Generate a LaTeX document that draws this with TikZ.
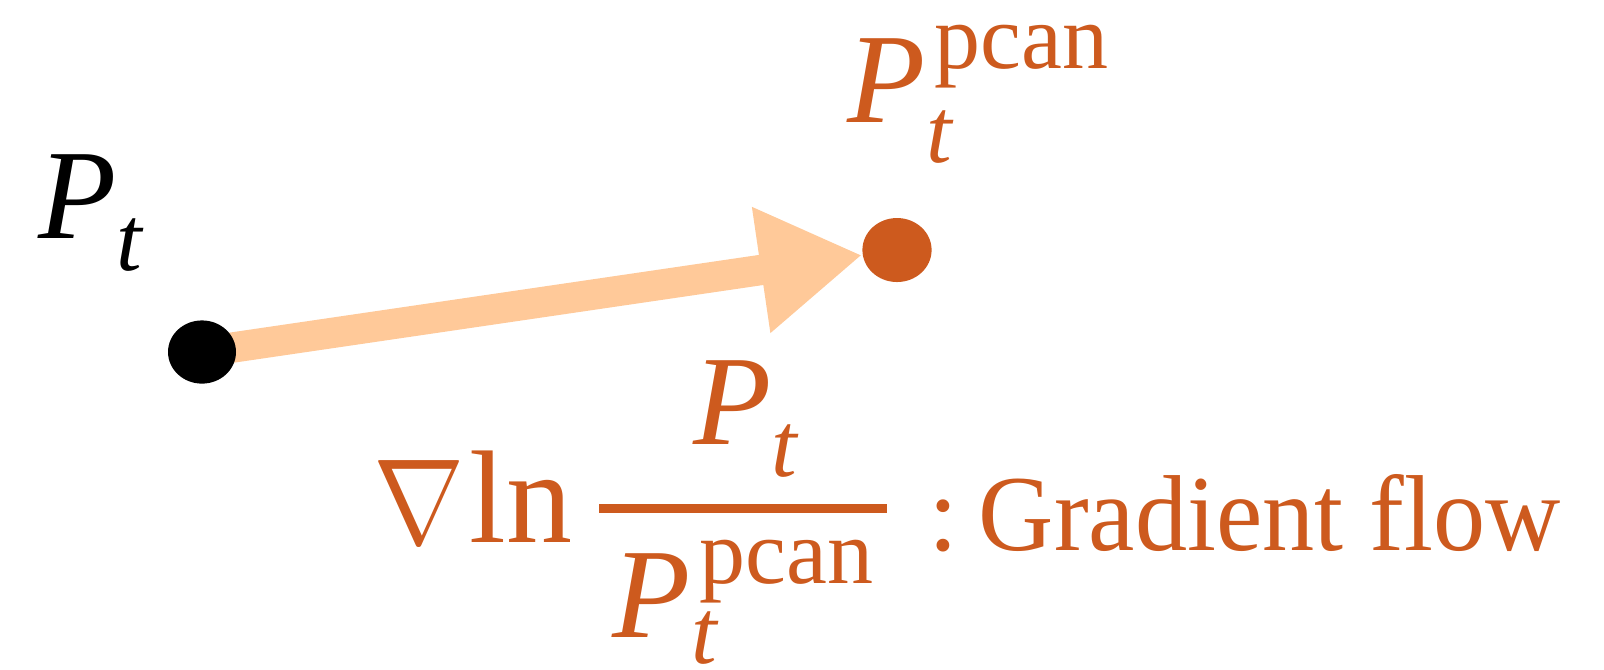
\documentclass[tikz,border=0pt]{standalone}
\usepackage{fontspec}
\setmainfont{Liberation Serif}
\usepackage{graphicx}
\usetikzlibrary{arrows.meta, shapes.geometric, backgrounds}
\definecolor{pcanorange}{RGB}{205,90,30}
\definecolor{flowpeach}{RGB}{255,201,153}

\newcommand{\bigP}{\fontsize{32}{32}\selectfont\itshape P}
\newcommand{\smallfnt}{\fontsize{23}{23}\selectfont}
% P_t and P_t^pcan, drop of t and rise of pcan as arguments
\newcommand{\symPt}[1]{{\bigP}\rlap{\raisebox{-#1}{\smallfnt\itshape t}}}
\newcommand{\symPcan}[2]{{\bigP}\rlap{\raisebox{-#1}{\smallfnt\itshape t}}\kern2.2pt\raisebox{#2}{\smallfnt pcan}}

\begin{document}
\begin{tikzpicture}[x=0.25pt, y=-0.25pt,
  dot/.style={ellipse, inner sep=0pt, minimum width=17pt, minimum height=15.8pt},
  flow/.style={-{Triangle[length=25.5pt, width=30pt]}, line width=7.6pt, flowpeach},
  lbl/.style={inner sep=0pt, anchor=base west}
]
\useasboundingbox (0,0) rectangle (1604,669);
\node[dot, fill=black] (pt) at (202,352) {};
\node[dot, fill=pcanorange, minimum width=17.3pt, minimum height=16pt] (pcan) at (897,250) {};
\begin{scope}[on background layer]
  \draw[flow] (pt.center) -- (pcan);
\end{scope}

% Labels
\node[lbl] (ptlabel) at (38,238) {\symPt{8pt}};
\node[lbl, text=pcanorange] (pcanlabel) at (847,122) {\symPcan{10.2pt}{13.5pt}};

% Gradient flow
\node[lbl, text=pcanorange] (nabla) at (373,543) {\fontsize{32}{32}\selectfont\scalebox{1.1}[1.22]{$\nabla$}};
\node[lbl, text=pcanorange, font=\fontsize{33}{33}\selectfont] (ln) at (469,542) {ln};
\node[fill=pcanorange, inner sep=0pt, minimum width=72pt, minimum height=2.25pt] (bar) at (743,508.5) {};
\node[lbl, text=pcanorange] (num) at (693,444) {\symPt{8pt}};
\node[lbl, text=pcanorange] (den) at (612,637) {\symPcan{6.6pt}{13.4pt}};
\node[lbl, text=pcanorange, font=\fontsize{27}{27}\selectfont] (gf) at (928,550) {:\kern5pt\scalebox{0.965}[1]{Gradient flow}};
\end{tikzpicture}
\end{document}
